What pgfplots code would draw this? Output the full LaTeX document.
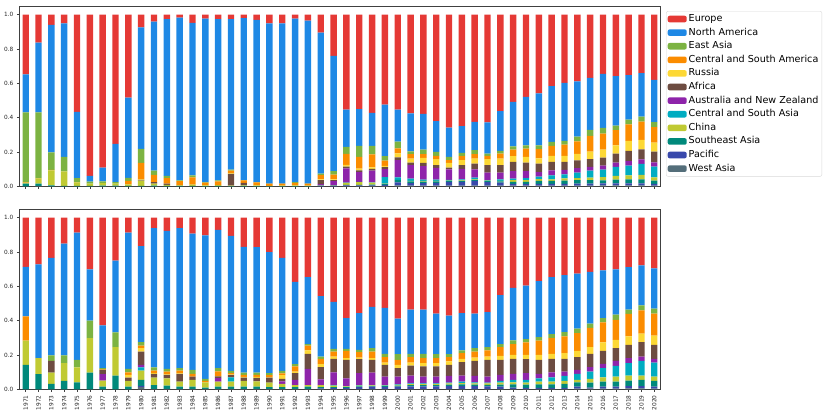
\documentclass[border=0pt]{standalone}
\usepackage{fontspec}
\setmainfont{DejaVu Sans}
\usepackage{pgfplots}
\usepackage{pgfplotstable}
\pgfplotsset{compat=1.18}

\definecolor{cEur}{HTML}{E53935}
\definecolor{cNA}{HTML}{1E88E5}
\definecolor{cEA}{HTML}{7CB342}
\definecolor{cCSAm}{HTML}{FB8C00}
\definecolor{cRus}{HTML}{FDD835}
\definecolor{cAfr}{HTML}{6D4C41}
\definecolor{cAus}{HTML}{8E24AA}
\definecolor{cCSA}{HTML}{00ACC1}
\definecolor{cChina}{HTML}{C0CA33}
\definecolor{cSE}{HTML}{00897B}
\definecolor{cPac}{HTML}{3949AB}
\definecolor{cWA}{HTML}{546E7A}

\pgfplotstableread{
x WA Pac SE China CSA Aus Afr Rus CSAm EA NA Eur
0 0 0 0.015 0.006 0 0 0 0 0.004 0.405 0.222 0.348
1 0.003 0 0.013 0.03 0 0 0 0 0.002 0.382 0.407 0.163
2 0 0 0.005 0.088 0 0 0 0 0.002 0.103 0.742 0.060
3 0 0 0.002 0.085 0 0 0 0 0 0.084 0.778 0.051
4 0 0 0.003 0.020 0 0 0 0 0.002 0.022 0.387 0.566
5 0 0 0.003 0.012 0 0 0 0 0 0.012 0.033 0.940
6 0 0 0.004 0.014 0 0 0 0 0 0.011 0.080 0.891
7 0 0 0.004 0.011 0 0 0 0 0 0.010 0.222 0.753
8 0 0 0.003 0.008 0 0 0 0 0.020 0.018 0.467 0.484
9 0 0 0.003 0.030 0 0 0.005 0.002 0.096 0.082 0.708 0.074
10 0 0 0.004 0.012 0 0 0.009 0 0.041 0.025 0.868 0.041
11 0 0 0.003 0.006 0 0 0.006 0 0.033 0.012 0.913 0.027
12 0 0 0.002 0.004 0 0 0 0 0.024 0.005 0.947 0.018
13 0 0 0.002 0.008 0 0 0 0 0.042 0.012 0.887 0.049
14 0 0 0.001 0.004 0 0 0 0 0.016 0.004 0.952 0.023
15 0 0 0.002 0.005 0 0 0 0 0.022 0.006 0.938 0.027
16 0 0 0.001 0.003 0 0 0.068 0.003 0.017 0.005 0.876 0.027
17 0 0 0.002 0.003 0 0 0.015 0 0.014 0.002 0.943 0.021
18 0 0 0.001 0.004 0 0 0 0 0.018 0.002 0.944 0.031
19 0 0 0.001 0.002 0 0 0 0 0.012 0.001 0.933 0.051
20 0 0 0.001 0.003 0 0 0 0 0.011 0.001 0.933 0.051
21 0 0 0.001 0.004 0 0 0 0 0.015 0.005 0.952 0.023
22 0 0 0.001 0.003 0 0 0 0 0.011 0.001 0.949 0.035
23 0 0.002 0.001 0.001 0.001 0.008 0.023 0.004 0.025 0.009 0.821 0.105
24 0 0.003 0.001 0.001 0 0.025 0.006 0.005 0.027 0.020 0.671 0.241
25 0.002 0.003 0.003 0.012 0.002 0.083 0.010 0.010 0.064 0.041 0.217 0.553
26 0.002 0.003 0.004 0.015 0.002 0.056 0.011 0.010 0.068 0.064 0.214 0.551
27 0.002 0.004 0.004 0.011 0.002 0.068 0.011 0.008 0.076 0.050 0.192 0.572
28 0.003 0.006 0.005 0.002 0.038 0.046 0.011 0.008 0.031 0.025 0.300 0.525
29 0.005 0.018 0.014 0.000 0.015 0.101 0.016 0.023 0.029 0.039 0.187 0.553
30 0.004 0.014 0.010 0.004 0.013 0.078 0.015 0.023 0.026 0.017 0.220 0.576
31 0.004 0.015 0.008 0.004 0.008 0.078 0.019 0.029 0.022 0.027 0.208 0.578
32 0.004 0.016 0.008 0.004 0.007 0.068 0.016 0.035 0.019 0.023 0.179 0.621
33 0.004 0.022 0.005 0.002 0.004 0.061 0.011 0.027 0.016 0.019 0.171 0.658
34 0.004 0.022 0.006 0.003 0.005 0.062 0.021 0.029 0.023 0.020 0.155 0.650
35 0.004 0.028 0.005 0.003 0.010 0.049 0.033 0.029 0.026 0.023 0.165 0.625
36 0.004 0.020 0.006 0.003 0.003 0.044 0.043 0.035 0.019 0.014 0.181 0.628
37 0.004 0.018 0.006 0.004 0.009 0.039 0.043 0.038 0.030 0.015 0.232 0.562
38 0.004 0.010 0.012 0.010 0.009 0.044 0.053 0.033 0.039 0.019 0.259 0.508
39 0.004 0.010 0.012 0.010 0.012 0.041 0.049 0.033 0.049 0.019 0.282 0.479
40 0.004 0.010 0.017 0.011 0.014 0.027 0.049 0.031 0.053 0.023 0.302 0.459
41 0.004 0.010 0.017 0.010 0.023 0.029 0.049 0.035 0.058 0.024 0.325 0.416
42 0.004 0.010 0.019 0.013 0.024 0.025 0.047 0.035 0.066 0.022 0.338 0.397
43 0.004 0.012 0.020 0.012 0.032 0.026 0.045 0.038 0.072 0.029 0.321 0.389
44 0.004 0.012 0.020 0.015 0.040 0.022 0.045 0.044 0.092 0.034 0.304 0.368
45 0.005 0.012 0.018 0.019 0.043 0.024 0.046 0.047 0.093 0.033 0.314 0.346
46 0.005 0.012 0.022 0.021 0.053 0.025 0.053 0.048 0.088 0.027 0.288 0.358
47 0.005 0.012 0.024 0.023 0.057 0.025 0.060 0.059 0.095 0.029 0.259 0.352
48 0.005 0.012 0.024 0.025 0.064 0.027 0.058 0.055 0.107 0.029 0.253 0.341
49 0.004 0.010 0.019 0.019 0.063 0.025 0.062 0.053 0.089 0.029 0.247 0.380
}\toptable

\pgfplotstableread{
x WA Pac SE China CSA Aus Afr Rus CSAm EA NA Eur
0 0 0 0.142 0.141 0 0 0 0 0.142 0 0.288 0.287
1 0 0 0.088 0.093 0 0 0 0 0 0 0.546 0.273
2 0 0 0.031 0.066 0 0 0.069 0 0 0.031 0.569 0.234
3 0 0 0.049 0.103 0 0 0 0 0 0.045 0.651 0.152
4 0 0 0.041 0.086 0 0 0 0 0 0.045 0.740 0.088
5 0 0 0.097 0.201 0 0 0 0 0 0.102 0.298 0.302
6 0 0 0.016 0.035 0 0.037 0.025 0 0.003 0.007 0.249 0.628
7 0 0 0.080 0.166 0 0 0 0 0 0.085 0.419 0.250
8 0 0 0.016 0.033 0 0 0.019 0.016 0.015 0.020 0.793 0.088
9 0.012 0.008 0.035 0.054 0.018 0.015 0.078 0.020 0.015 0.020 0.559 0.166
10 0.003 0 0.022 0.043 0 0 0.022 0.004 0.015 0.018 0.811 0.062
11 0.003 0 0.018 0.043 0 0 0.020 0.003 0.016 0.016 0.803 0.078
12 0.003 0 0.013 0.029 0 0 0.045 0.003 0.016 0.014 0.815 0.062
13 0.003 0 0.013 0.039 0 0 0.019 0 0.016 0.023 0.793 0.094
14 0.002 0 0.008 0.031 0 0 0 0 0.008 0.011 0.837 0.103
15 0.003 0 0.013 0.029 0 0.020 0.010 0 0.029 0.019 0.805 0.072
16 0.003 0 0.013 0.029 0.025 0 0.014 0.003 0.007 0.013 0.786 0.107
17 0.003 0 0.013 0.033 0 0 0.019 0.004 0.012 0.013 0.733 0.170
18 0.003 0 0.013 0.030 0 0 0.021 0.005 0.012 0.013 0.731 0.172
19 0.003 0 0.010 0.026 0 0 0.029 0.003 0.012 0.011 0.705 0.201
20 0.003 0 0.010 0.018 0 0.015 0.014 0.023 0.010 0.014 0.659 0.234
21 0.003 0 0.009 0.013 0 0.030 0.039 0.009 0.030 0.013 0.480 0.374
22 0.003 0 0.012 0.010 0 0.094 0.088 0.019 0.029 0.008 0.390 0.347
23 0.003 0.002 0.007 0.013 0 0.033 0.071 0.017 0.031 0.014 0.351 0.458
24 0.003 0.004 0.006 0.008 0.004 0.074 0.078 0.014 0.029 0.016 0.273 0.491
25 0.003 0.004 0.005 0.005 0.002 0.045 0.108 0.009 0.043 0.012 0.179 0.585
26 0.003 0.010 0.004 0.005 0.003 0.069 0.081 0.010 0.031 0.014 0.214 0.556
27 0.003 0.012 0.004 0.004 0.002 0.072 0.075 0.009 0.039 0.020 0.240 0.520
28 0.003 0.011 0.004 0.004 0.003 0.049 0.068 0.014 0.031 0.020 0.267 0.526
29 0.003 0.012 0.006 0.005 0.003 0.045 0.049 0.019 0.030 0.033 0.206 0.589
30 0.003 0.014 0.007 0.006 0.005 0.045 0.058 0.018 0.031 0.020 0.257 0.536
31 0.003 0.014 0.007 0.006 0.005 0.039 0.059 0.019 0.029 0.026 0.257 0.536
32 0.003 0.014 0.007 0.006 0.005 0.039 0.059 0.019 0.029 0.024 0.236 0.559
33 0.003 0.016 0.008 0.007 0.005 0.039 0.064 0.020 0.025 0.018 0.224 0.571
34 0.003 0.015 0.010 0.008 0.009 0.035 0.078 0.019 0.034 0.015 0.218 0.556
35 0.003 0.015 0.009 0.008 0.006 0.037 0.088 0.019 0.035 0.020 0.201 0.559
36 0.003 0.014 0.009 0.008 0.005 0.035 0.098 0.019 0.035 0.020 0.204 0.550
37 0.003 0.012 0.012 0.012 0.010 0.035 0.088 0.023 0.051 0.017 0.285 0.452
38 0.003 0.007 0.019 0.012 0.014 0.035 0.087 0.024 0.062 0.022 0.306 0.409
39 0.003 0.006 0.018 0.012 0.016 0.039 0.081 0.026 0.072 0.019 0.312 0.396
40 0.003 0.006 0.020 0.016 0.019 0.026 0.082 0.029 0.082 0.021 0.326 0.370
41 0.003 0.006 0.020 0.016 0.025 0.029 0.078 0.030 0.091 0.024 0.331 0.347
42 0.003 0.006 0.022 0.018 0.029 0.025 0.074 0.034 0.097 0.025 0.332 0.335
43 0.004 0.012 0.025 0.014 0.035 0.023 0.074 0.037 0.103 0.026 0.320 0.327
44 0.004 0.006 0.029 0.021 0.043 0.026 0.078 0.039 0.111 0.025 0.302 0.316
45 0.004 0.012 0.029 0.025 0.053 0.025 0.076 0.049 0.117 0.025 0.277 0.308
46 0.004 0.012 0.029 0.029 0.062 0.030 0.074 0.048 0.117 0.030 0.263 0.302
47 0.005 0.014 0.032 0.029 0.072 0.029 0.078 0.049 0.131 0.025 0.248 0.288
48 0.005 0.014 0.036 0.025 0.086 0.025 0.084 0.049 0.136 0.029 0.232 0.279
49 0.004 0.012 0.033 0.025 0.082 0.021 0.082 0.053 0.128 0.030 0.234 0.296
}\bottable

\pgfplotsset{
  mybase/.style={
    scale only axis, width=641.4bp, height=180.3bp,
    xmin=-0.5, xmax=49.5, ymin=0, ymax=1.05,
    ybar stacked, bar width=0.5,
    xtick={0,...,49}, ytick={0,0.2,0.4,0.6,0.8,1.0},
    tick pos=left, tick align=outside, major tick length=2.5bp,
    tick style={black!75, line width=0.5bp},
    axis line style={black!75, line width=0.6bp},
    ticklabel style={font=\fontsize{5.8bp}{7bp}\selectfont, text=black!85},
    yticklabel style={/pgf/number format/.cd, fixed, fixed zerofill, precision=1, assume math mode=true},
    every axis plot/.append style={draw=none},
  },
}

\newcommand{\allplots}[1]{%
  \addplot[fill=cWA] table[x=x,y=WA]{#1};
  \addplot[fill=cPac] table[x=x,y=Pac]{#1};
  \addplot[fill=cSE] table[x=x,y=SE]{#1};
  \addplot[fill=cChina] table[x=x,y=China]{#1};
  \addplot[fill=cCSA] table[x=x,y=CSA]{#1};
  \addplot[fill=cAus] table[x=x,y=Aus]{#1};
  \addplot[fill=cAfr] table[x=x,y=Afr]{#1};
  \addplot[fill=cRus] table[x=x,y=Rus]{#1};
  \addplot[fill=cCSAm] table[x=x,y=CSAm]{#1};
  \addplot[fill=cEA] table[x=x,y=EA]{#1};
  \addplot[fill=cNA] table[x=x,y=NA]{#1};
  \addplot[fill=cEur] table[x=x,y=Eur]{#1};
}

\begin{document}
\begin{tikzpicture}
\path[use as bounding box] (0,0) rectangle (830bp,415bp);
\begin{axis}[mybase, at={(19.3bp,228.7bp)}, anchor=south west,
  xticklabels={},
  reverse legend,
  legend image code/.code={\fill[#1] (0bp,-3.3bp) rectangle (19bp,3.3bp);},
  legend style={at={(1.0083,0.972)}, anchor=north west, draw=black!15,
    rounded corners=2bp, fill=white, inner xsep=1.5bp, inner ysep=1bp,
    font=\fontsize{9.6bp}{11bp}\selectfont, row sep=0pt,
    nodes={inner ysep=2.4bp, text height=6.9bp, text depth=1.9bp}},
  legend cell align=left,
]
\allplots{\toptable}
\legend{West Asia, Pacific, Southeast Asia, China, Central and South Asia, Australia and New Zealand, Africa, Russia, Central and South America, East Asia, North America, Europe}
\end{axis}
\begin{axis}[mybase, at={(19.3bp,25.7bp)}, anchor=south west,
  xticklabel={\pgfmathparse{int(\tick+1971)}\pgfmathresult},
  xticklabel style={rotate=90, anchor=east},
]
\allplots{\bottable}
\end{axis}
\end{tikzpicture}
\end{document}
